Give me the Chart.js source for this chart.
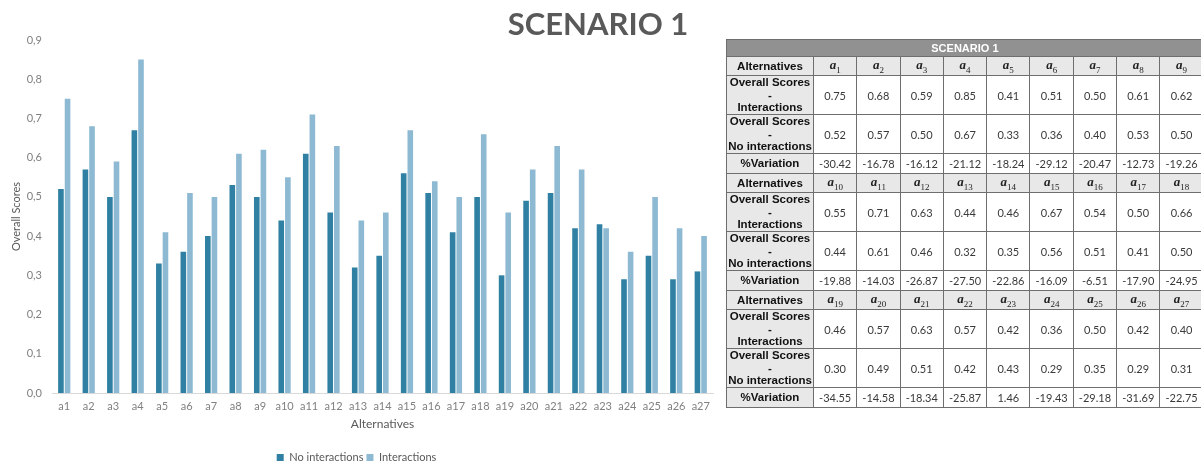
<!DOCTYPE html>
<html>
<head>
<meta charset="utf-8">
<title>Scenario 1</title>
<script src="https://cdn.jsdelivr.net/npm/chart.js@4.4.1/dist/chart.umd.min.js"></script>
<style>
    html, body { margin: 0; padding: 0; background: #fff; overflow: hidden; }
    body { width: 1201px; height: 464px; position: relative; }
    /* khung cao hơn cửa sổ một chút để chú thích nằm sát mép dưới */
    #chartWrap { position: absolute; left: 0; top: 0; width: 728px; height: 473px; }
    #tieuDe {
        position: absolute; left: 440px; top: 4px; width: 316px; text-align: center;
        font-family: Lato, sans-serif; font-weight: bold; font-size: 31px; color: #595959;
    }
    #bangDiem {
        position: absolute; left: 726px; top: 39px; width: 477px;
        border-collapse: collapse; table-layout: fixed;
        font-family: Lato, sans-serif; font-size: 11px; color: #3a3a3a;
    }
    #bangDiem td { border: 1px solid #6e6e6e; text-align: center; padding: 0; background: #fff; }
    #bangDiem td.nhan {
        background: #e8e8e8; color: #111; font-family: "Liberation Sans", Arial, sans-serif;
        font-weight: bold; font-size: 11.5px; line-height: 12.5px;
    }
    #bangDiem td.ten { background: #e8e8e8; font-family: "Liberation Serif", serif; font-style: italic; font-weight: bold; font-size: 13px; color: #222; }
    #bangDiem td.ten sub { font-size: 9px; font-style: normal; font-weight: normal; }
    #bangDiem td.dau {
        background: #919191; color: #fff; font-family: "Liberation Sans", Arial, sans-serif;
        font-weight: bold; font-size: 11px; height: 16px;
    }
    #bangDiem tr.hAlt td { height: 18px; }
    #bangDiem tr.hScore td { height: 38px; }
    #bangDiem tr.hVar td { height: 19px; }
</style>
</head>
<body>
<div id="chartWrap"><canvas id="chartScenario"></canvas></div>
<div id="tieuDe">SCENARIO 1</div>
<table id="bangDiem"></table>

<script>
const labels = ['a1', 'a2', 'a3', 'a4', 'a5', 'a6', 'a7', 'a8', 'a9', 'a10', 'a11', 'a12', 'a13', 'a14',
    'a15', 'a16', 'a17', 'a18', 'a19', 'a20', 'a21', 'a22', 'a23', 'a24', 'a25', 'a26', 'a27'];
const dataInteractions = [0.75, 0.68, 0.59, 0.85, 0.41, 0.51, 0.50, 0.61, 0.62, 0.55, 0.71, 0.63, 0.44, 0.46,
    0.67, 0.54, 0.50, 0.66, 0.46, 0.57, 0.63, 0.57, 0.42, 0.36, 0.50, 0.42, 0.40];
const dataNoInteractions = [0.52, 0.57, 0.50, 0.67, 0.33, 0.36, 0.40, 0.53, 0.50, 0.44, 0.61, 0.46, 0.32, 0.35,
    0.56, 0.51, 0.41, 0.50, 0.30, 0.49, 0.51, 0.42, 0.43, 0.29, 0.35, 0.29, 0.31];
const dataVariation = [-30.42, -16.78, -16.12, -21.12, -18.24, -29.12, -20.47, -12.73, -19.26, -19.88, -14.03,
    -26.87, -27.50, -22.86, -16.09, -6.51, -17.90, -24.95, -34.55, -14.58, -18.34, -25.87, 1.46, -19.43,
    -29.18, -31.69, -22.75];

const mauDam = '#2f80a2';
const mauNhat = '#8eb9d3';
const chuXam = '#808080';

var chartScenario = {
    chart: null,
    ChartData: function (ctx) {
        const data = {
            labels: labels,
            datasets: [{
                label: 'No interactions',
                data: dataNoInteractions,
                backgroundColor: mauDam
            }, {
                label: 'Interactions',
                data: dataInteractions,
                backgroundColor: mauNhat
            }]
        };

        const config = {
            type: 'bar',
            data: data,
            options: {
                responsive: true,
                maintainAspectRatio: false,
                animation: false,
                datasets: {
                    bar: { categoryPercentage: 0.54, barPercentage: 0.85 }
                },
                layout: { padding: { top: 40, right: 15, bottom: 0, left: 0 } },
                plugins: {
                    tooltip: { enabled: false },
                    legend: {
                        position: 'bottom',
                        labels: {
                            boxWidth: 7, boxHeight: 7, padding: 3,
                            color: '#595959',
                            font: { family: 'Lato', size: 11 }
                        }
                    }
                },
                scales: {
                    x: {
                        grid: { display: false, drawTicks: false },
                        border: { display: true, color: '#d9d9d9', width: 1 },
                        ticks: {
                            autoSkip: false, maxRotation: 0, padding: 7,
                            color: chuXam, font: { family: 'Lato', size: 11 }
                        },
                        title: {
                            display: true, text: 'Alternatives', color: '#595959',
                            font: { family: 'Lato', size: 12 },
                            padding: { top: 4, bottom: 18 }
                        },
                        afterFit: function (s) { s.height = 56; }
                    },
                    y: {
                        min: 0, max: 0.9,
                        grid: { display: false, drawTicks: false },
                        border: { display: false },
                        ticks: {
                            stepSize: 0.1, padding: 10,
                            color: chuXam, font: { family: 'Lato', size: 11 },
                            callback: function (v) { return v.toFixed(1).replace('.', ','); }
                        },
                        title: {
                            display: true, text: 'Overall Scores', color: '#595959',
                            font: { family: 'Lato', size: 11 },
                            padding: { top: 10, bottom: 0 }
                        },
                        afterFit: function (s) { s.width = 52; }
                    }
                }
            }
        };

        if (this.chart) {
            this.chart.destroy();
        }
        this.chart = new Chart(ctx, config);
    }
};

// bảng điểm: 3 khối, mỗi khối 9 phương án
function VeBang() {
    var html = '<colgroup><col style="width:87px">';
    for (var c = 0; c < 9; c++) html += '<col style="width:43.3px">';
    html += '</colgroup>';
    html += '<tr><td class="dau" colspan="10">SCENARIO 1</td></tr>';
    for (var k = 0; k < 3; k++) {
        var tu = k * 9, den = tu + 9;
        var hAlt = '<tr class="hAlt"><td class="nhan">Alternatives</td>';
        var hInt = '<tr class="hScore"><td class="nhan">Overall Scores<br>-<br>Interactions</td>';
        var hNo = '<tr class="hScore"><td class="nhan">Overall Scores<br>-<br>No interactions</td>';
        var hVar = '<tr class="hVar"><td class="nhan">%Variation</td>';
        for (var i = tu; i < den; i++) {
            hAlt += '<td class="ten">a<sub>' + (i + 1) + '</sub></td>';
            hInt += '<td>' + dataInteractions[i].toFixed(2) + '</td>';
            hNo += '<td>' + dataNoInteractions[i].toFixed(2) + '</td>';
            hVar += '<td>' + dataVariation[i].toFixed(2) + '</td>';
        }
        html += hAlt + '</tr>' + hInt + '</tr>' + hNo + '</tr>' + hVar + '</tr>';
    }
    document.getElementById('bangDiem').innerHTML = html;
}

VeBang();
chartScenario.ChartData(document.getElementById('chartScenario'));
</script>
</body>
</html>
